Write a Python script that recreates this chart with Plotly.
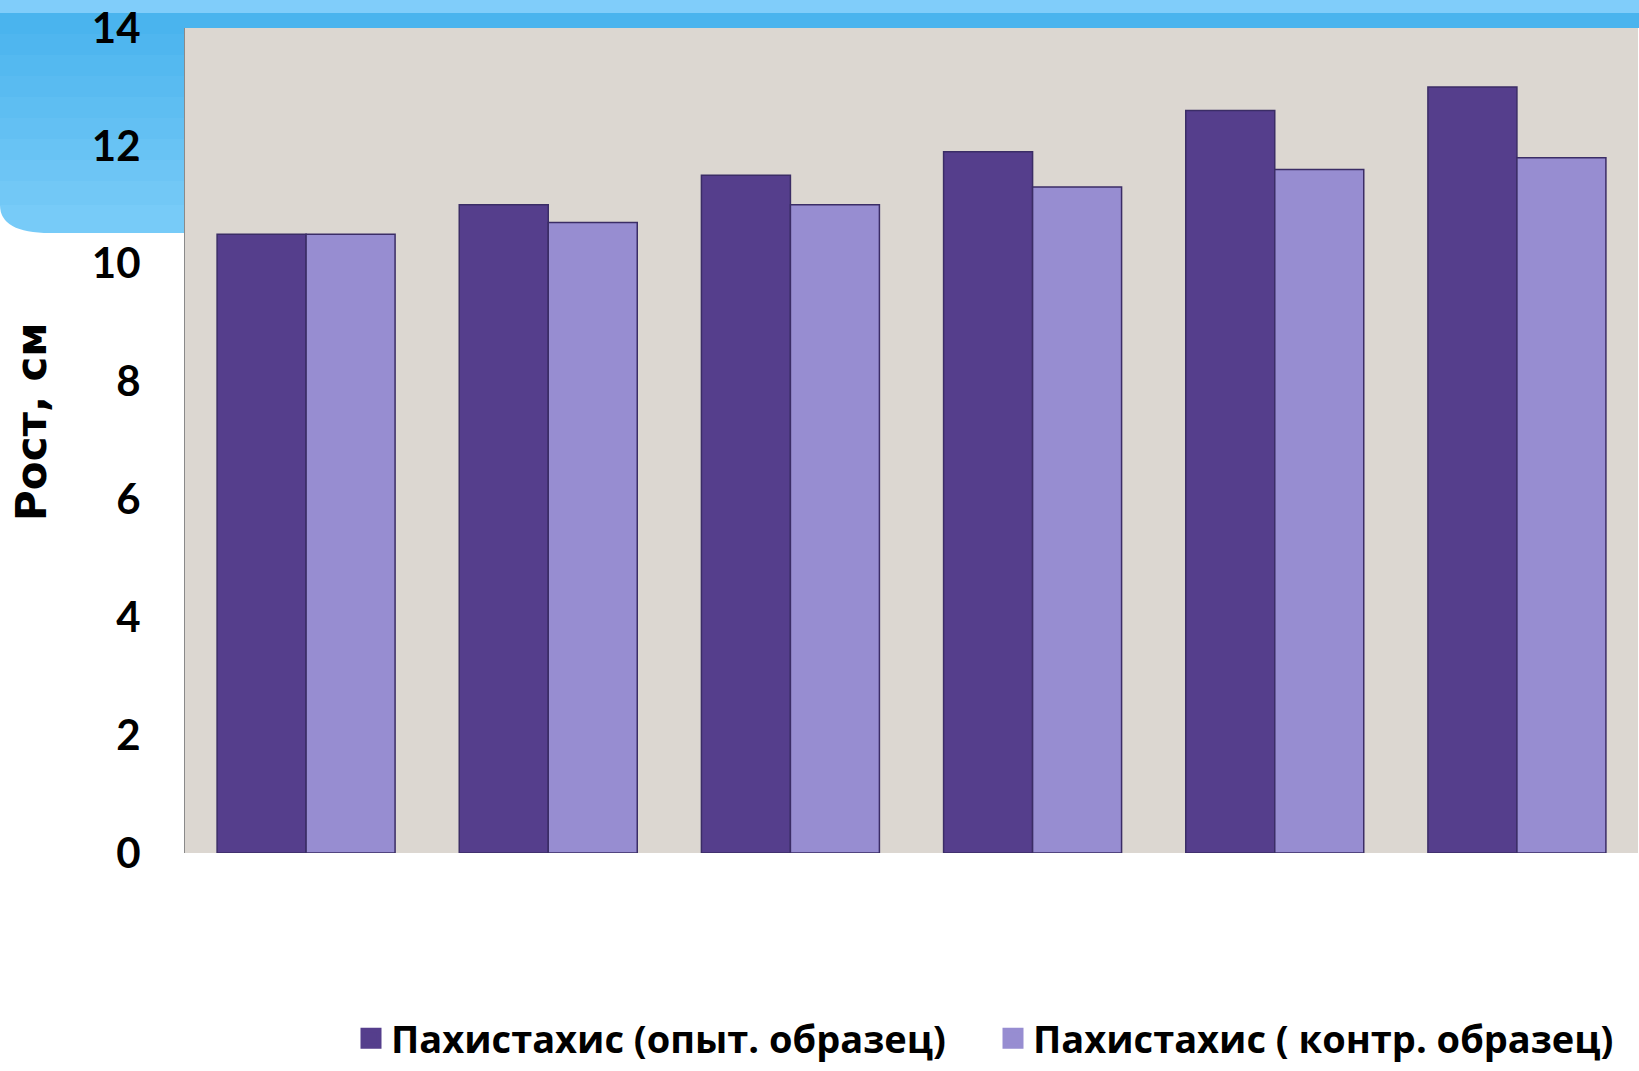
import plotly.graph_objects as go

# ---- data ----
categories = ["1", "2", "3", "4", "5", "6"]
series_names = ["Пахистахис (опыт. образец)", "Пахистахис ( контр. образец)"]
experimental = [10.5, 11.0, 11.5, 11.9, 12.6, 13.0]
control = [10.5, 10.7, 11.0, 11.3, 11.6, 11.8]
y_ticks = [0, 2, 4, 6, 8, 10, 12, 14]
y_title = "Рост, см"

# ---- style ----
W, H = 1639, 1071
PL, PR, PT, PB = 185, 1638, 28, 853  # plot area in pixels
DARK = "#553e8c"
LIGHT = "#978dd1"
EDGE = "#3b2d66"
FONT = "Open Sans"

def px_x(x):
    return (x - PL) / (PR - PL)

def px_y(y):
    return (PB - y) / (PB - PT)

fig = go.Figure()
fig.add_trace(go.Bar(x=categories, y=experimental, name=series_names[0],
                     marker=dict(color=DARK, line=dict(color=EDGE, width=1.5)),
                     showlegend=False))
fig.add_trace(go.Bar(x=categories, y=control, name=series_names[1],
                     marker=dict(color=LIGHT, line=dict(color=EDGE, width=1.5)),
                     showlegend=False))
# legend proxies (larger swatches)
for nm, col in zip(series_names, [DARK, LIGHT]):
    fig.add_trace(go.Scatter(x=[None], y=[None], mode="markers", name=nm,
                             marker=dict(symbol="square", size=16, color=col,
                                         line=dict(color=col, width=5))))

shapes = []
# top bands
shapes.append(dict(type="rect", xref="paper", yref="paper", layer="below",
                   x0=px_x(0), x1=px_x(W), y0=px_y(28), y1=px_y(13),
                   fillcolor="#4ab4ee", line=dict(width=0)))
shapes.append(dict(type="rect", xref="paper", yref="paper", layer="below",
                   x0=px_x(0), x1=px_x(W), y0=px_y(13), y1=px_y(0),
                   fillcolor="#80cdfa", line=dict(width=0)))
# left box with gradient (stacked strips), rounded bottom-left
grad = ["#4ab4ee", "#4fb6ef", "#54b9f0", "#59bbf1", "#5ebef2", "#63c0f3",
        "#68c3f4", "#6dc5f5", "#72c8f6"]
edges = [13, 34, 55, 76, 97, 118, 139, 160, 181, 206]
for i, col in enumerate(grad):
    shapes.append(dict(type="rect", xref="paper", yref="paper", layer="below",
                       x0=px_x(0), x1=px_x(PL), y0=px_y(edges[i + 1]), y1=px_y(edges[i]),
                       fillcolor=col, line=dict(width=0)))
x0, x1 = px_x(0), px_x(PL)
yt, yb = px_y(205), px_y(233)
xc = px_x(50)
shapes.append(dict(type="path", xref="paper", yref="paper", layer="below",
                   path=f"M {x0},{yt} L {x1},{yt} L {x1},{yb} L {xc},{yb} Q {x0},{yb} {x0},{yt} Z",
                   fillcolor="#77cbf8", line=dict(width=0)))

fig.update_layout(
    width=W, height=H,
    margin=dict(l=PL, r=W - PR, t=PT, b=H - PB, pad=0),
    paper_bgcolor="white",
    plot_bgcolor="#dcd7d1",
    barmode="group",
    bargap=0.265,
    bargroupgap=0,
    shapes=shapes,
    showlegend=True,
    legend=dict(orientation="h", x=px_x(351), xanchor="left",
                y=px_y(1070), yanchor="bottom",
                font=dict(family=FONT, size=38, color="black", weight="bold"),
                entrywidth=597, entrywidthmode="pixels",
                itemwidth=30, tracegroupgap=0, borderwidth=0,
                bgcolor="rgba(0,0,0,0)"),
    font=dict(family=FONT, color="black"),
    annotations=[dict(text=y_title, xref="paper", yref="paper",
                      x=px_x(31), y=px_y(422), textangle=-90,
                      showarrow=False, xanchor="center", yanchor="middle",
                      font=dict(family="DejaVu Sans", size=42, color="black", weight="bold"))],
)
fig.update_xaxes(range=[-0.5, 5.5], showticklabels=False, showgrid=False,
                 zeroline=False, showline=False, ticks="")
fig.update_yaxes(range=[0, 14], tickvals=y_ticks, showgrid=False, zeroline=False,
                 showline=True, linecolor="#8a8a8a", linewidth=1,
                 ticks="", ticklabelstandoff=35,
                 tickfont=dict(family="Lato", size=42, color="black", weight="bold"))

fig.write_html("out.html", config={"displayModeBar": False},
               post_script="document.body.style.margin='0';document.body.style.overflow='hidden';")
